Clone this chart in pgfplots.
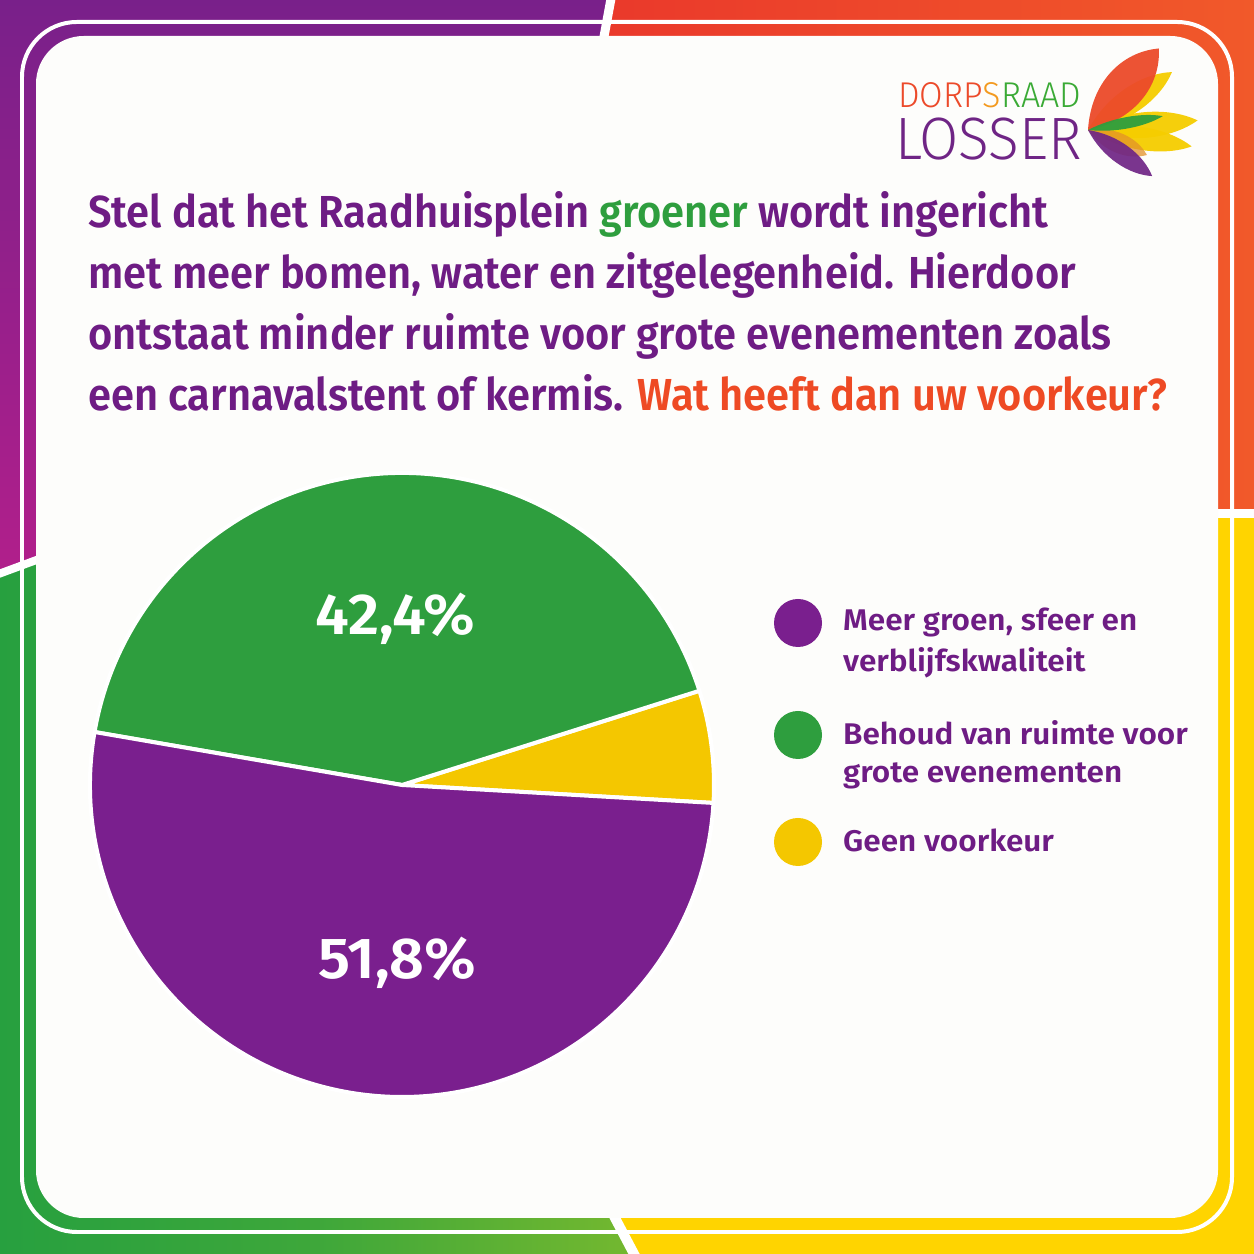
\documentclass[border=0pt]{standalone}
\usepackage{fontspec}
\setmainfont{Fira Sans}[BoldFont={Fira Sans SemiBold}]
\newfontfamily\titlefont{Fira Sans SemiBold}[FakeStretch=0.928]
\newfontfamily\legfont{Fira Sans SemiBold}[FakeStretch=1.055]
\newfontfamily\numfont{Fira Sans SemiBold}[FakeStretch=1.05]
\newfontfamily\logofont{Fira Sans Light}
\usepackage{pgfplots}
\usepackage{pgfplotstable}
\pgfplotsset{compat=1.18}

\definecolor{fpurpleA}{HTML}{79208A}
\definecolor{fpurpleB}{HTML}{B11F8B}
\definecolor{fredA}{HTML}{EA392B}
\definecolor{fredB}{HTML}{F1592A}
\definecolor{fgreenA}{HTML}{27A03F}
\definecolor{fgreenB}{HTML}{74B82F}
\definecolor{fyellow}{HTML}{FFD400}
\definecolor{card}{HTML}{FDFDFB}
\definecolor{ppurple}{HTML}{7A1F8E}
\definecolor{pgreen}{HTML}{2E9E3E}
\definecolor{pyellow}{HTML}{F4C700}
\definecolor{tpurple}{HTML}{6E1C84}
\definecolor{tgreen}{HTML}{2E9E3E}
\definecolor{torange}{HTML}{EE4A24}
\definecolor{lred}{HTML}{EC4A2A}
\definecolor{lorange}{HTML}{F39A1F}
\definecolor{lgreen}{HTML}{3AAA35}
\definecolor{lpurple}{HTML}{6F2585}
\definecolor{lyellow}{HTML}{F5CD00}

\pgfplotstableread{
label share
{Geen voorkeur} 5.8
{Behoud van ruimte voor grote evenementen} 42.4
{Meer groen, sfeer en verblijfskwaliteit} 51.8
}\piedata

% petal: color, opacity, length, angle, width
\newcommand\petal[5]{%
  \begin{scope}[shift={(1088,1124)}, rotate=#4]
    \fill[#1, opacity=#2] (0,0) .. controls ({0.35*#3},{#5}) and ({0.75*#3},{0.9*#5}) .. (#3,0)
      .. controls ({0.75*#3},{-0.9*#5}) and ({0.35*#3},{-#5}) .. (0,0);
  \end{scope}}

\begin{document}
\begin{tikzpicture}[x=1bp,y=1bp]
\path[use as bounding box] (0,0) rectangle (1254,1254);
\clip (0,0) rectangle (1254,1254);

% frame quadrants
\shade[top color=fpurpleA, bottom color=fpurpleB] (0,1254) -- (611,1254) -- (603,1214) -- (603,693) -- (38,693) -- (0,680) -- cycle;
\shade[left color=fredA, right color=fredB] (611,1254) -- (1254,1254) -- (1254,741) -- (603,741) -- (603,1214) -- cycle;
\fill[fyellow] (603,741) -- (1254,741) -- (1254,0) -- (635,0) -- (614,38) -- (603,38) -- cycle;
\shade[left color=fgreenA, right color=fgreenB, middle color=fgreenA!70!fgreenB] (0,680) -- (38,693) -- (603,693) -- (603,38) -- (614,38) -- (635,0) -- (0,0) -- cycle;

% gaps
\draw[white, line width=9] (611.5,1258) -- (603,1212);
\draw[white, line width=8] (-3,679.4) -- (40,695.3);
\draw[white, line width=10] (1214,740.5) -- (1258,740.5);
\draw[white, line width=10] (612.9,40) -- (635.6,-3);

% outline and card
\draw[white, line width=4, rounded corners=55] (22,22) rectangle (1232,1232);
\fill[card, rounded corners=48] (36,36) rectangle (1218,1218);

% logo
\node[anchor=base west, inner sep=0, font=\logofont\fontsize{36}{40}\selectfont] at (898,1146)
  {\scalebox{0.95}[1]{\textcolor{lred}{DORP}\textcolor{lorange}{S}\textcolor{lgreen}{RAAD}}};
\node[anchor=base west, inner sep=0, text=lpurple, font=\logofont\fontsize{60}{62}\selectfont] at (895,1094)
  {\scalebox{0.95}[1]{LOSSER}};
\petal{lyellow}{0.95}{102}{34.6}{18}
\petal{lyellow}{0.95}{110}{5}{18}
\petal{lyellow}{0.95}{105}{-9}{16}
\petal{lred}{0.95}{108}{49}{29}
\petal{lorange!70!brown}{0.75}{64}{-23}{14}
\petal{pgreen}{0.95}{76}{10.5}{8}
\petal{lpurple}{0.92}{79}{-35.7}{14}

% title
\begin{scope}[every node/.style={anchor=base west, inner sep=0, text=tpurple, font=\titlefont\fontsize{45}{54}\selectfont}]
\node at (88,1026) {Stel dat het Raadhuisplein \textcolor{tgreen}{groener} wordt ingericht};
\node at (88,965) {met meer bomen, water en zitgelegenheid. Hierdoor};
\node at (88,904) {ontstaat minder ruimte voor grote evenementen zoals};
\node at (88,843) {een carnavalstent of kermis. \textcolor{torange}{Wat heeft dan uw voorkeur?}};
\end{scope}

% pie angles from data
\pgfmathsetmacro\angA{-3.3}
\pgfplotstablegetelem{0}{share}\of\piedata
\pgfmathsetmacro\angB{\angA+3.6*\pgfplotsretval}
\pgfplotstablegetelem{1}{share}\of\piedata
\pgfmathsetmacro\angC{\angB+3.6*\pgfplotsretval}
\pgfplotstablegetelem{2}{share}\of\piedata
\pgfmathsetmacro\angD{\angC+3.6*\pgfplotsretval}

\begin{axis}[hide axis, scale only axis, width=624bp, height=624bp,
  xmin=-1, xmax=1, ymin=-1, ymax=1, at={(402bp,469bp)}, anchor=center, clip=false]
\fill[pyellow, draw=white, line width=4bp, line join=round] (axis cs:0,0) -- (axis cs:{cos(\angA)},{sin(\angA)}) arc[start angle=\angA, end angle=\angB, radius=312bp] -- cycle;
\fill[pgreen, draw=white, line width=4bp, line join=round] (axis cs:0,0) -- (axis cs:{cos(\angB)},{sin(\angB)}) arc[start angle=\angB, end angle=\angC, radius=312bp] -- cycle;
\fill[ppurple, draw=white, line width=4bp, line join=round] (axis cs:0,0) -- (axis cs:{cos(\angC)},{sin(\angC)}) arc[start angle=\angC, end angle=\angD, radius=312bp] -- cycle;
\node[anchor=base, inner sep=0, text=white, font=\numfont\fontsize{58}{60}\selectfont] at (axis cs:-0.02,0.481) {42,4\%};
\node[anchor=base, inner sep=0, text=white, font=\numfont\fontsize{58}{60}\selectfont] at (axis cs:-0.014,-0.619) {51,8\%};
\end{axis}

% legend
\fill[ppurple] (798,631) circle (24);
\fill[pgreen] (798,519) circle (24);
\fill[pyellow] (798,412) circle (24);
\begin{scope}[every node/.style={anchor=base west, inner sep=0, text=tpurple, font=\legfont\fontsize{30}{36}\selectfont}]
\node at (843,623) {Meer groen, sfeer en};
\node at (843,582) {verblijfskwaliteit};
\node at (843,509) {Behoud van ruimte voor};
\node at (843,471) {grote evenementen};
\node at (843,402) {Geen voorkeur};
\end{scope}
\end{tikzpicture}
\end{document}
